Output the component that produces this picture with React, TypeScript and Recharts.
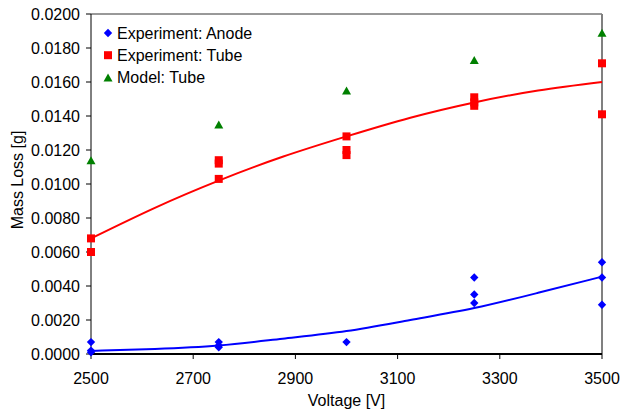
import React from "react";
import {
  ComposedChart,
  XAxis,
  YAxis,
  Scatter,
  Line,
  Label,
  ReferenceLine,
} from "recharts";

// Experiment: Anode
const anodeVoltage = [2500, 2500, 2500, 2750, 2750, 2750, 3000, 3250, 3250, 3250, 3500, 3500, 3500];
const anodeMass = [0.0007, 0.0002, 0.0001, 0.0007, 0.0005, 0.0004, 0.0007, 0.0045, 0.0035, 0.003, 0.0054, 0.0045, 0.0029];

// Experiment: Tube
const tubeVoltage = [2500, 2500, 2750, 2750, 2750, 3000, 3000, 3000, 3250, 3250, 3250, 3500, 3500];
const tubeMass = [0.0068, 0.006, 0.0103, 0.0112, 0.0114, 0.0128, 0.012, 0.0117, 0.0151, 0.0148, 0.0146, 0.0171, 0.0141];

// Model: Tube
const modelVoltage = [2500, 2750, 3000, 3250, 3500];
const modelMass = [0.0114, 0.0135, 0.0155, 0.0173, 0.0189];

// Trend lines
const trendVoltage = [2500, 2625, 2750, 2875, 3000, 3125, 3250, 3375, 3500];
const anodeTrend = [0.00018, 0.0003, 0.0005, 0.0009, 0.00135, 0.002, 0.0027, 0.0036, 0.00455];
const tubeTrend = [0.0068, 0.0086, 0.0102, 0.0116, 0.0128, 0.0139, 0.0148, 0.0155, 0.016];

const xTicks = [2500, 2700, 2900, 3100, 3300, 3500];
const yTicks = [0, 0.002, 0.004, 0.006, 0.008, 0.01, 0.012, 0.014, 0.016, 0.018, 0.02];

const legendItems = ["Experiment: Anode", "Experiment: Tube", "Model: Tube"];

const BLUE = "#0000ff";
const RED = "#ff0000";
const GREEN = "#008000";
const FONT = "'Liberation Sans', Arial, sans-serif";
const FS = 16;

const zip = (xs: number[], ys: number[]) => xs.map((v, i) => ({ v, m: ys[i] }));

const anodeData = zip(anodeVoltage, anodeMass);
const tubeData = zip(tubeVoltage, tubeMass);
const modelData = zip(modelVoltage, modelMass);
const anodeTrendData = zip(trendVoltage, anodeTrend);
const tubeTrendData = zip(trendVoltage, tubeTrend);

const diamondPath = (cx: number, cy: number, r: number) =>
  `M${cx},${cy - r}L${cx + r},${cy}L${cx},${cy + r}L${cx - r},${cy}Z`;
const trianglePath = (cx: number, cy: number, w: number, h: number) =>
  `M${cx},${cy - h / 2}L${cx + w / 2},${cy + h / 2}L${cx - w / 2},${cy + h / 2}Z`;

const DiamondShape = (p: any) => <path d={diamondPath(p.cx, p.cy, 4.2)} fill={BLUE} />;
const SquareShape = (p: any) => <rect x={p.cx - 4} y={p.cy - 4} width={8} height={8} fill={RED} />;
const TriangleShape = (p: any) => <path d={trianglePath(p.cx, p.cy, 9, 8)} fill={GREEN} />;

export default function App() {
  const legendX = 108;
  const legendY0 = 33;
  const legendDy = 22.2;
  return (
    <div style={{ position: "absolute", left: 0, top: 0, width: 621, height: 411, background: "#fff" }}>
      <ComposedChart
        width={621}
        height={411}
        margin={{ top: 14, right: 19, bottom: 0, left: 0 }}
        style={{ fontFamily: FONT }}
      >
        <XAxis
          type="number"
          dataKey="v"
          domain={[2500, 3500]}
          ticks={xTicks}
          height={57}
          tickSize={5}
          tickMargin={14}
          axisLine={{ stroke: "#000", strokeWidth: 2 }}
          tickLine={{ stroke: "#000" }}
          tick={{ fill: "#000", fontSize: FS, fontFamily: FONT }}
        >
          <Label
            content={(props: any) => {
              const vb = props.viewBox || { x: 91, y: 354, width: 511, height: 57 };
              return (
                <text
                  x={vb.x + vb.width / 2}
                  y={vb.y + 52}
                  textAnchor="middle"
                  fill="#000"
                  fontSize={FS}
                  fontFamily={FONT}
                >
                  Voltage [V]
                </text>
              );
            }}
          />
        </XAxis>
        <YAxis
          type="number"
          dataKey="m"
          domain={[0, 0.02]}
          ticks={yTicks}
          width={91}
          tickSize={5}
          tickMargin={6}
          tickFormatter={(v: number) => v.toFixed(4)}
          axisLine={{ stroke: "#000" }}
          tickLine={{ stroke: "#000" }}
          tick={{ fill: "#000", fontSize: FS, fontFamily: FONT }}
        >
          <Label
            content={(props: any) => {
              const vb = props.viewBox || { x: 0, y: 14, width: 91, height: 340 };
              const cx = vb.x + 23;
              const cy = vb.y + vb.height / 2 - 4;
              return (
                <text
                  x={cx}
                  y={cy}
                  transform={`rotate(-90 ${cx} ${cy})`}
                  textAnchor="middle"
                  fill="#000"
                  fontSize={FS}
                  fontFamily={FONT}
                >
                  Mass Loss [g]
                </text>
              );
            }}
          />
        </YAxis>
        <ReferenceLine y={0.02} stroke="#333" strokeWidth={1} ifOverflow="visible" />
        <ReferenceLine x={3500} stroke="#808080" strokeWidth={2} ifOverflow="visible" />
        <Line
          data={anodeTrendData}
          dataKey="m"
          type="natural"
          stroke={BLUE}
          strokeWidth={2}
          dot={false}
          activeDot={false}
          isAnimationActive={false}
        />
        <Line
          data={tubeTrendData}
          dataKey="m"
          type="natural"
          stroke={RED}
          strokeWidth={2}
          dot={false}
          activeDot={false}
          isAnimationActive={false}
        />
        <Scatter data={anodeData} dataKey="m" shape={DiamondShape} isAnimationActive={false} />
        <Scatter data={tubeData} dataKey="m" shape={SquareShape} isAnimationActive={false} />
        <Scatter data={modelData} dataKey="m" shape={TriangleShape} isAnimationActive={false} />
      </ComposedChart>
      <svg
        width={621}
        height={411}
        style={{ position: "absolute", left: 0, top: 0, pointerEvents: "none" }}
      >
        {legendItems.map((name, i) => {
          const cy = legendY0 + i * legendDy;
          let icon;
          if (i === 0) icon = <path d={diamondPath(legendX, cy, 4.2)} fill={BLUE} />;
          else if (i === 1) icon = <rect x={legendX - 4} y={cy - 4} width={8} height={8} fill={RED} />;
          else icon = <path d={trianglePath(legendX, cy, 9, 8)} fill={GREEN} />;
          return (
            <g key={name}>
              {icon}
              <text x={117} y={cy + 5.6} fill="#000" fontSize={FS} fontFamily={FONT}>
                {name}
              </text>
            </g>
          );
        })}
      </svg>
    </div>
  );
}
